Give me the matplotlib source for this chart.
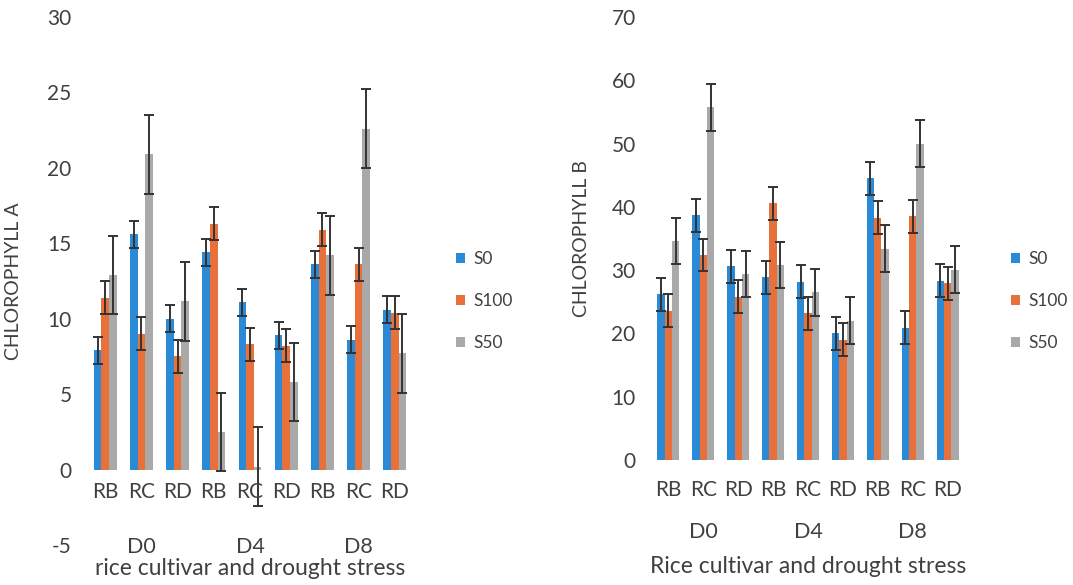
import numpy as np
import matplotlib
matplotlib.use("Agg")
import matplotlib.pyplot as plt

plt.rcParams['font.family'] = ['Lato', 'DejaVu Sans']
plt.rcParams['text.color'] = '#404040'
plt.rcParams['axes.unicode_minus'] = False

# data
cultivars = ["RB", "RC", "RD"] * 3
stress = ["D0", "D4", "D8"]
series = ["S0", "S100", "S50"]
colors = ["#2b8ad6", "#e8703a", "#a9a9a9"]

chl_a_s0 = [7.9, 15.6, 10.0, 14.4, 11.1, 8.9, 13.6, 8.6, 10.6]
chl_a_s100 = [11.4, 9.0, 7.5, 16.3, 8.3, 8.2, 15.9, 13.6, 10.4]
chl_a_s50 = [12.9, 20.9, 11.15, 2.5, 0.2, 5.8, 14.2, 22.6, 7.7]
chl_a_err = [0.9, 1.1, 2.6]

chl_b_s0 = [26.2, 38.7, 30.6, 28.9, 28.2, 20.0, 44.5, 20.9, 28.3]
chl_b_s100 = [23.6, 32.4, 25.8, 40.6, 23.2, 19.0, 38.3, 38.5, 27.9]
chl_b_s50 = [34.6, 55.7, 29.4, 30.8, 26.5, 22.0, 33.4, 50.0, 30.1]
chl_b_err = [2.6, 2.6, 3.7]

W, H = 1073, 585
fig = plt.figure(figsize=(W / 100, H / 100), dpi=100)

def px(l, r, top, bot):
    return [l / W, 1 - bot / H, (r - l) / W, (bot - top) / H]

ax1 = fig.add_axes(px(87, 413, 17, 545))
ax2 = fig.add_axes(px(651, 965, 17, 460))

x = np.arange(1, 10)
bw = 0.21


def draw(ax, vals, errs, ylim, yticks, ylabel, xlabel, y_cat, y_grp, y_lab, ylab_x, leg_x):
    bars = []
    for i, (v, e) in enumerate(zip(vals, errs)):
        b = ax.bar(x + (i - 1) * bw, v, bw, color=colors[i], label=series[i],
                   yerr=e, error_kw=dict(ecolor='#333333', elinewidth=1.4,
                                         capsize=3.8, capthick=1.4))
        bars.append(b)
    ax.set_xlim(0.5, 9.5)
    ax.set_ylim(*ylim)
    ax.set_yticks(yticks)
    ax.set_xticks([])
    ax.tick_params(axis='y', length=0, pad=11, labelsize=15, labelcolor='#404040')
    for s in ax.spines.values():
        s.set_visible(False)
    for xi, c in zip(x, cultivars):
        ax.text(xi, y_cat, c, ha='center', va='center', fontsize=15)
    for k, g in enumerate(stress):
        ax.text(2 + 3 * k, y_grp, g, ha='center', va='center', fontsize=15.5)
    ax.text(5, y_lab, xlabel, ha='center', va='center', fontsize=16.5)
    ax.set_ylabel(ylabel, fontsize=14, color='#404040')
    ax.yaxis.set_label_coords(ylab_x, 0.5)
    fig.legend(handles=bars, loc='center left', frameon=False,
               bbox_to_anchor=(leg_x / W, 1 - 301 / H), fontsize=12.5,
               handlelength=0.55, handleheight=0.55, handletextpad=0.45,
               labelspacing=1.5, borderpad=0)


draw(ax1, [chl_a_s0, chl_a_s100, chl_a_s50], chl_a_err, (-5, 30),
     np.arange(-5, 31, 5), "CHLOROPHYLL A", "rice cultivar and drought stress",
     -1.5, -5.1, -6.55, -0.2, 447)
draw(ax2, [chl_b_s0, chl_b_s100, chl_b_s50], chl_b_err, (0, 70),
     np.arange(0, 71, 10), "CHLOROPHYLL B", "Rice cultivar and drought stress",
     -4.8, -11.4, -16.9, -0.194, 1002)

fig.savefig("out.png", dpi=100)
